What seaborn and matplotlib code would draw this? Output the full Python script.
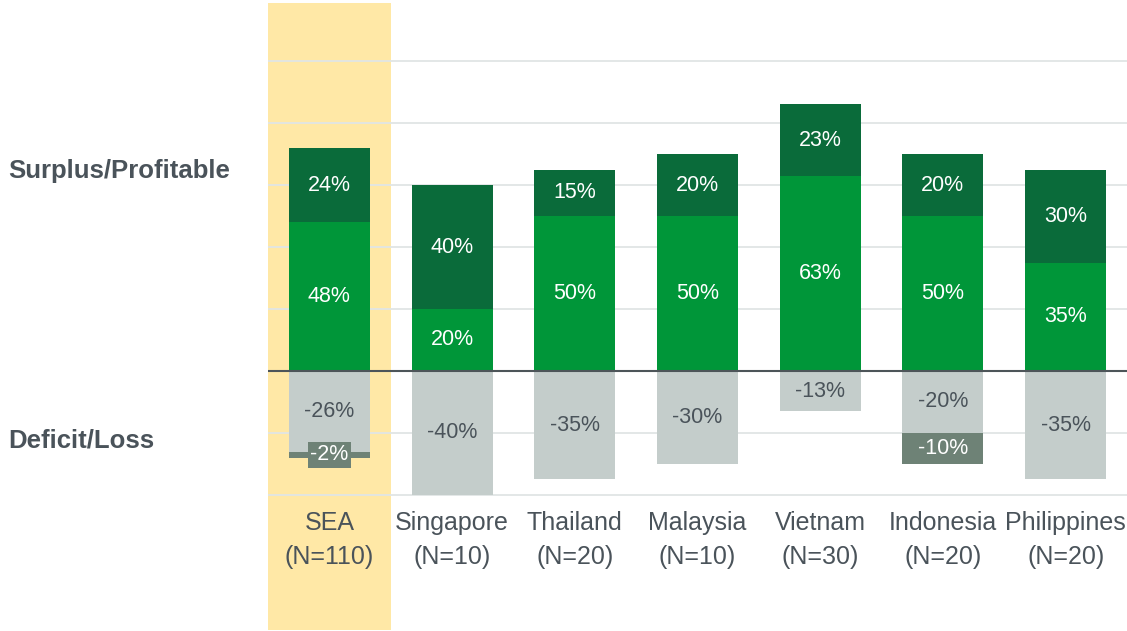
import matplotlib
matplotlib.use("Agg")
import matplotlib.pyplot as plt
import seaborn as sns
import pandas as pd

# data (percent of respondents)
regions = ["SEA", "Singapore", "Thailand", "Malaysia", "Vietnam", "Indonesia", "Philippines"]
sample_n = [110, 10, 20, 10, 30, 20, 20]
surplus_low = [48, 20, 50, 50, 63, 50, 35]      # bright green
surplus_high = [24, 40, 15, 20, 23, 20, 30]     # dark green, stacked on top
deficit_main = [-26, -40, -35, -30, -13, -20, -35]  # light grey
deficit_deep = [-2, 0, 0, 0, 0, -10, 0]           # dark grey, stacked below

df = pd.DataFrame({
    "region": regions,
    "low": surplus_low,
    "high": surplus_high,
    "neg": deficit_main,
    "deep": deficit_deep,
})
df["pos_total"] = df["low"] + df["high"]
df["neg_total"] = df["neg"] + df["deep"]

c_dark = "#0A6B3A"
c_green = "#009639"
c_grey = "#C4CDCB"
c_dgrey = "#6E8276"
c_text = "#4A535A"
c_yellow = "#FFE8A6"

sns.set_style("white")
plt.rcParams["font.family"] = ["Liberation Sans", "DejaVu Sans"]

fig = plt.figure(figsize=(11.27, 6.31), dpi=100)
ax = fig.add_axes([268 / 1127, 0, 859 / 1127, 1])

# highlight column for SEA
ax.axvspan(-0.5, 0.5, ymin=1 / 631, ymax=628 / 631, color=c_yellow, zorder=0, lw=0)

# gridlines
for g in [-40, -20, 20, 40, 60, 80, 100]:
    ax.axhline(g, color="#E1E5E5", lw=1.3, zorder=0.5)

w = 0.66
bar_kw = dict(width=w, saturation=1, ax=ax, linewidth=0, edgecolor="none")
# stacked positives: total first, then the lower part over it
sns.barplot(data=df, x="region", y="pos_total", color=c_dark, zorder=2, **bar_kw)
sns.barplot(data=df, x="region", y="low", color=c_green, zorder=3, **bar_kw)
# stacked negatives
sns.barplot(data=df, x="region", y="neg_total", color=c_dgrey, zorder=2, **bar_kw)
sns.barplot(data=df, x="region", y="neg", color=c_grey, zorder=3, **bar_kw)

ax.axhline(0, color="#4D5559", lw=1.5, zorder=4)

fs = 15.5
for i in range(len(regions)):
    lo, hi = surplus_low[i], surplus_high[i]
    ax.text(i, lo / 2, f"{lo}%", ha="center", va="center", color="white", fontsize=fs, zorder=5)
    ax.text(i, lo + hi / 2, f"{hi}%", ha="center", va="center", color="white", fontsize=fs, zorder=5)
    ng, dp = deficit_main[i], deficit_deep[i]
    ax.text(i, ng / 2, f"{ng}%", ha="center", va="center", color=c_text, fontsize=fs, zorder=5)
    if dp:
        box = dict(boxstyle="square,pad=0.12", fc=c_dgrey, ec="none") if abs(dp) < 5 else None
        ax.text(i, ng + dp / 2, f"{dp}%", ha="center", va="center", color="white",
                fontsize=fs, zorder=5, bbox=box)
    ax.text(i, -49.0, regions[i], ha="center", va="center", color=c_text, fontsize=18, zorder=5)
    ax.text(i, -60.0, f"(N={sample_n[i]})", ha="center", va="center", color=c_text,
            fontsize=18, zorder=5)

ax.set_xlim(-0.5, 6.5)
ax.set_ylim(-83.9, 119.7)
ax.set_xlabel("")
ax.set_ylabel("")
ax.set_xticks([])
ax.set_yticks([])
sns.despine(ax=ax, left=True, bottom=True)

# row labels on the left
fig.text(8 / 1127, 1 - 171 / 631, "Surplus/Profitable", ha="left", va="center",
         fontsize=18.5, fontweight="bold", color=c_text)
fig.text(8 / 1127, 1 - 440 / 631, "Deficit/Loss", ha="left", va="center",
         fontsize=18.5, fontweight="bold", color=c_text)

fig.savefig("out.png", dpi=100)
